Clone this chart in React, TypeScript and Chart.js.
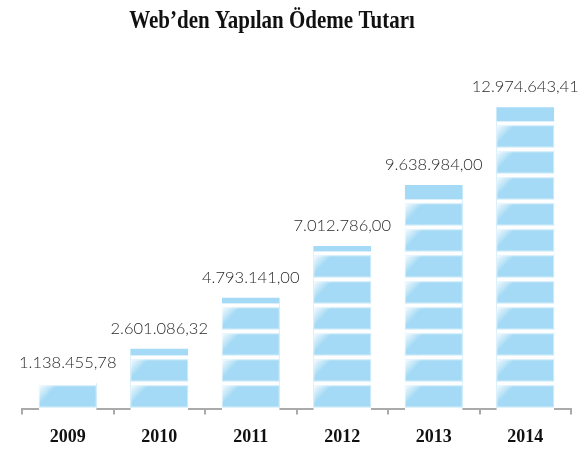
import React, { useEffect, useRef } from "react";
import { Chart, registerables } from "chart.js";

Chart.register(...registerables);

const TITLE = "Web’den Yapılan Ödeme Tutarı";
const categories = ["2009", "2010", "2011", "2012", "2013", "2014"];
const values = [1138455.78, 2601086.32, 4793141.0, 7012786.0, 9638984.0, 12974643.41];
const Y_MAX = 15000000;

const BAR_COLOR = "#a4daf5";
const BLOCK_PX = 26;
const BLOCK_FILL_PX = 22;
const BASE_GAP_PX = 2;
const SERIF = "'Liberation Serif', 'Times New Roman', serif";

function formatTR(v: number): string {
  const fixed = v.toFixed(2);
  const [intPart, dec] = fixed.split(".");
  const withDots = intPart.replace(/\B(?=(\d{3})+(?!\d))/g, ".");
  return withDots + "," + dec;
}

const blocksPlugin = {
  id: "blocks",
  afterDatasetsDraw(chart: any) {
    const ctx = chart.ctx;
    const meta = chart.getDatasetMeta(0);
    const base = chart.scales.y.getPixelForValue(0);
    meta.data.forEach((el: any, i: number) => {
      const { x, y, width } = el.getProps(["x", "y", "width"], true);
      const left = x - width / 2;
      ctx.save();
      ctx.beginPath();
      ctx.rect(left, y, width, base - y + 2);
      ctx.clip();
      ctx.fillStyle = "#ffffff";
      ctx.fillRect(left, base - BASE_GAP_PX, width, BASE_GAP_PX + 2);
      for (let k = 0; k < 40; k++) {
        const blockBottom = base - BASE_GAP_PX - k * BLOCK_PX;
        const blockTop = blockBottom - BLOCK_FILL_PX;
        if (blockBottom <= y) break;
        ctx.fillStyle = "#ffffff";
        ctx.fillRect(left, blockTop - (BLOCK_PX - BLOCK_FILL_PX), width, BLOCK_PX - BLOCK_FILL_PX);
        if (blockTop >= y - 0.5) {
          const g = ctx.createLinearGradient(left, blockTop, left + width * 0.28, blockTop + BLOCK_FILL_PX * 0.7);
          g.addColorStop(0, "rgba(255,255,255,0.9)");
          g.addColorStop(0.45, "rgba(255,255,255,0.25)");
          g.addColorStop(0.6, "rgba(255,255,255,0.0)");
          g.addColorStop(1, "rgba(255,255,255,0)");
          ctx.fillStyle = g;
          ctx.fillRect(left, blockTop, width, BLOCK_FILL_PX);
          ctx.strokeStyle = "rgba(255,255,255,0.45)";
          ctx.lineWidth = 1;
          ctx.strokeRect(left + 0.5, blockTop + 0.5, width - 1, BLOCK_FILL_PX - 1);
        }
      }
      ctx.restore();

      ctx.save();
      ctx.font = "300 16.5px Lato";
      ctx.fillStyle = "#2a2a2a";
      ctx.textAlign = "center";
      ctx.textBaseline = "alphabetic";
      ctx.fillText(formatTR(values[i]), x, y - 15);
      ctx.restore();
    });
  },
  afterDraw(chart: any) {
    const ctx = chart.ctx;
    ctx.save();
    ctx.font = "bold 25px " + SERIF;
    ctx.fillStyle = "#111111";
    ctx.textAlign = "center";
    ctx.textBaseline = "alphabetic";
    ctx.translate(272, 28);
    ctx.scale(0.84, 1);
    ctx.fillText(TITLE, 0, 0);
    ctx.restore();
  },
};

export default function App() {
  const canvasRef = useRef<HTMLCanvasElement | null>(null);

  useEffect(() => {
    if (!canvasRef.current) return;
    const chart = new Chart(canvasRef.current, {
      type: "bar",
      data: {
        labels: categories,
        datasets: [
          {
            data: values,
            backgroundColor: BAR_COLOR,
            borderWidth: 0,
            barPercentage: 0.7,
            categoryPercentage: 0.9,
          },
        ],
      },
      options: {
        animation: false,
        responsive: true,
        maintainAspectRatio: false,
        layout: { padding: { left: 22, right: 7, top: 60, bottom: -7 } },
        plugins: {
          legend: { display: false },
          title: { display: false },
          tooltip: { enabled: false },
        },
        scales: {
          x: {
            offset: true,
            grid: {
              offset: true,
              drawOnChartArea: false,
              drawTicks: true,
              tickLength: 5,
              color: "#aaaaaa",
              lineWidth: 2,
            },
            border: { display: true, color: "#aaaaaa", width: 2 },
            ticks: {
              color: "#111111",
              padding: 12,
              font: { family: SERIF, size: 18, weight: "bold" },
            },
          },
          y: {
            display: false,
            min: 0,
            max: Y_MAX,
          },
        },
      },
      plugins: [blocksPlugin],
    });
    return () => chart.destroy();
  }, []);

  return (
    <div style={{ position: "fixed", left: 0, top: 0, width: 578, height: 453, background: "#fff" }}>
      <canvas ref={canvasRef} />
    </div>
  );
}
